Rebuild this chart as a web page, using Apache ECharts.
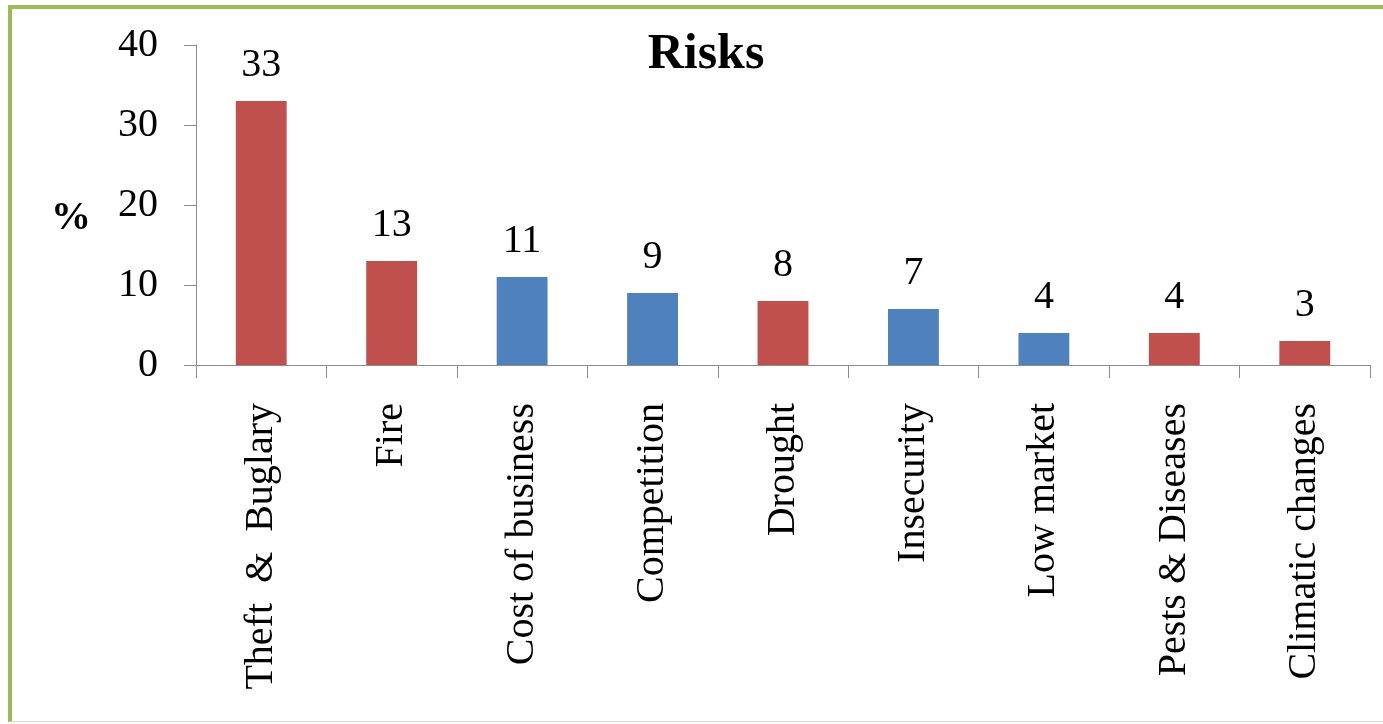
<!DOCTYPE html>
<html>
<head>
<meta charset="utf-8">
<title>Risks</title>
<script src="https://cdn.jsdelivr.net/npm/echarts@6/dist/echarts.min.js"></script>
<style>
    html, body { margin: 0; padding: 0; background: #fff; }
    #frame {
        position: absolute; left: 8px; top: 5px; width: 1375px; height: 712px;
        border-left: 4px solid #9BBB59; border-top: 4px solid #9BBB59;
        border-bottom: 1px solid #d4e3b5;
    }
    #chart { position: absolute; left: 0; top: 0; width: 1383px; height: 724px; }
</style>
</head>
<body>
<div id="frame"></div>
<div id="chart"></div>
<script>
    // 数据
    var categories = ['Theft  &  Buglary', 'Fire', 'Cost of business', 'Competition', 'Drought',
        'Insecurity', 'Low market', 'Pests & Diseases', 'Climatic changes'];
    var values = [33, 13, 11, 9, 8, 7, 4, 4, 3];
    var barColors = ['#C0504D', '#C0504D', '#4F81BD', '#4F81BD', '#C0504D',
        '#4F81BD', '#4F81BD', '#C0504D', '#C0504D'];
    var yTicks = [0, 10, 20, 30, 40];

    var serif = "'Liberation Serif', 'Times New Roman', serif";
    var axisColor = '#8c8c8c';

    var myChart = echarts.init(document.getElementById('chart'));
    var option = {
        animation: false,
        title: [{
            text: 'Risks',
            left: 701,
            textAlign: 'center',
            top: 25,
            textStyle: { fontFamily: serif, fontWeight: 'bold', fontSize: 50, color: '#000' }
        }, {
            // 纵轴单位
            text: '%',
            left: 46,
            top: 194,
            textStyle: { fontFamily: serif, fontWeight: 'bold', fontSize: 40, color: '#000' }
        }],
        grid: {
            left: 196,
            right: 13,
            top: 45,
            bottom: 359,
            containLabel: false
        },
        xAxis: {
            type: 'category',
            data: categories,
            axisLine: { show: true, lineStyle: { color: axisColor, width: 1 } },
            axisTick: { show: true, length: 13, lineStyle: { color: axisColor } },
            axisLabel: {
                rotate: 90,
                margin: 38,
                interval: 0,
                fontFamily: serif,
                fontSize: 40,
                color: '#000'
            }
        },
        yAxis: {
            type: 'value',
            min: yTicks[0],
            max: yTicks[yTicks.length - 1],
            interval: 10,
            splitLine: { show: false },
            axisLine: { show: true, lineStyle: { color: axisColor, width: 1 } },
            axisTick: { show: true, length: 12, lineStyle: { color: axisColor } },
            axisLabel: {
                margin: 38,
                fontFamily: serif,
                fontSize: 40,
                color: '#000'
            }
        },
        series: [{
            type: 'bar',
            barWidth: '39%',
            data: values.map(function (v, i) {
                return { value: v, itemStyle: { color: barColors[i] } };
            }),
            label: {
                show: true,
                position: 'top',
                distance: 16,
                fontFamily: serif,
                fontSize: 40,
                color: '#000'
            }
        }]
    };
    myChart.setOption(option);
</script>
</body>
</html>
